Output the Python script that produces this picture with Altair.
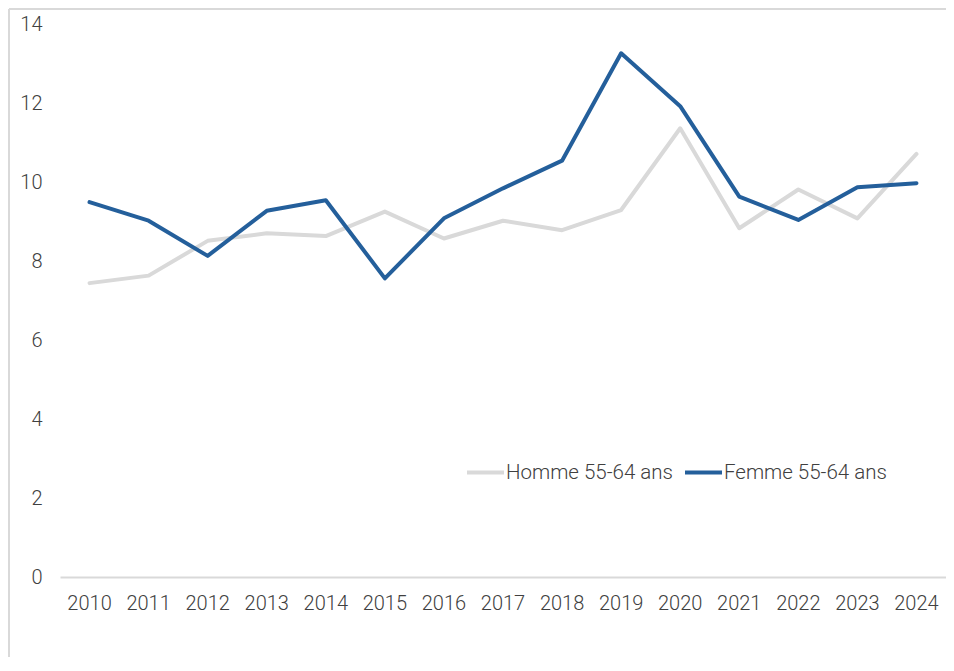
import altair as alt
import pandas as pd

years = [str(y) for y in range(2010, 2025)]
homme = [7.44, 7.63, 8.51, 8.70, 8.63, 9.25, 8.57, 9.02, 8.78, 9.29, 11.36, 8.83, 9.81, 9.08, 10.71]
femme = [9.49, 9.02, 8.13, 9.27, 9.54, 7.56, 9.08, 9.84, 10.54, 13.26, 11.92, 9.63, 9.04, 9.87, 9.97]
series = ["Homme 55-64 ans", "Femme 55-64 ans"]
colors = ["#d9d9d9", "#245f9b"]

rows = []
for name, vals in zip(series, [homme, femme]):
    for y, v in zip(years, vals):
        rows.append({"annee": y, "valeur": v, "serie": name})
df = pd.DataFrame(rows)

W, H = 886, 553
PL, PT, PB = 52, 16, 80

lines = alt.Chart(df).mark_line(strokeWidth=4, strokeCap="round", strokeJoin="round").encode(
    x=alt.X("annee:N", sort=years, title=None,
            scale=alt.Scale(type="band", paddingInner=0, paddingOuter=0),
            axis=alt.Axis(labelAngle=0, ticks=False, domain=True, domainColor="#d9d9d9",
                          domainWidth=2, grid=False, labelPadding=16, labelFontSize=20,
                          labelFontWeight=300,
                          labelColor="#404040", labelFont="Roboto")),
    y=alt.Y("valeur:Q", title=None,
            scale=alt.Scale(domain=[0, 14], nice=False, zero=True),
            axis=alt.Axis(values=[0, 2, 4, 6, 8, 10, 12, 14], ticks=False, domain=False,
                          grid=False, labelPadding=18, labelFontSize=20,
                          labelFontWeight=300,
                          labelColor="#404040", labelFont="Roboto")),
    color=alt.Color("serie:N", sort=series, title=None,
                    scale=alt.Scale(domain=series, range=colors),
                    legend=alt.Legend(orient="none", legendX=405, legendY=428,
                                      direction="horizontal", symbolType="stroke",
                                      symbolStrokeWidth=4, symbolSize=1369,
                                      labelFontSize=20.5, labelFont="Roboto",
                                      labelFontWeight=300, labelLimit=0,
                                      labelColor="#404040", labelOffset=0,
                                      columnPadding=4)),
    detail="serie:N",
)

frame_top = alt.Chart(pd.DataFrame({"k": [0]})).mark_rule(color="#d9d9d9", strokeWidth=2).encode(
    x=alt.value(-PL + 1), x2=alt.value(W + 20), y=alt.value(-PT + 1)
)
frame_left = alt.Chart(pd.DataFrame({"k": [0]})).mark_rule(color="#d9d9d9", strokeWidth=2).encode(
    x=alt.value(-PL + 1), y=alt.value(-PT + 1), y2=alt.value(H + PB + 10)
)

chart = alt.layer(frame_top, frame_left, lines).properties(
    width=W, height=H,
    autosize=alt.AutoSizeParams(type="none"),
    padding={"left": PL, "top": PT, "right": 0, "bottom": PB},
).configure(font="Roboto").configure_view(strokeWidth=0, stroke="transparent")

chart.save("out.html", embed_options={"renderer": "svg", "actions": False})
